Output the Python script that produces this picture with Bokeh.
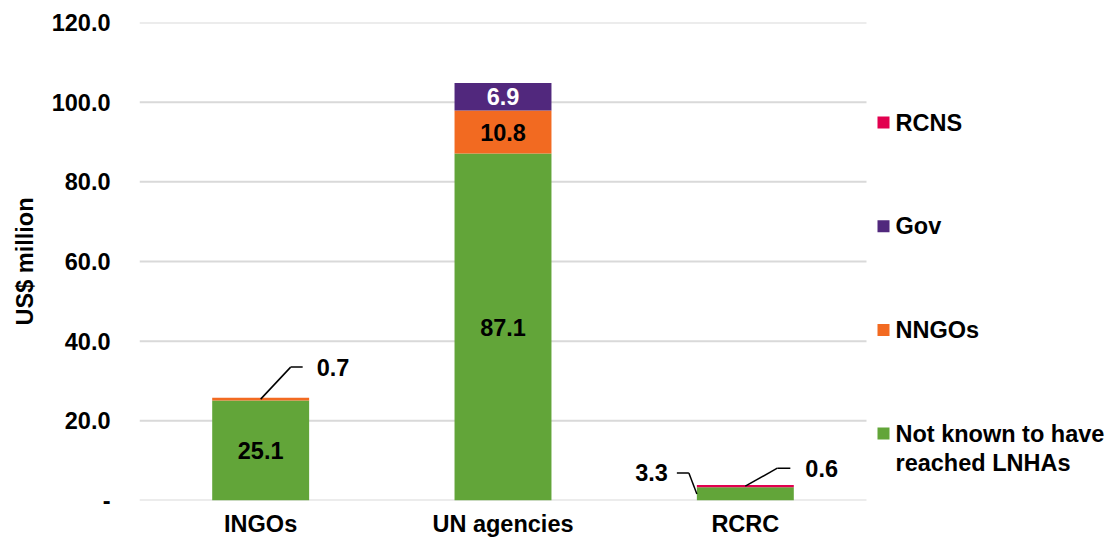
from bokeh.plotting import figure
from bokeh.models import Range1d, FixedTicker, ColumnDataSource
from bokeh.embed import file_html
from bokeh.resources import INLINE
from bokeh.core.properties import value

# ---------------- data ----------------
categories = ["INGOs", "UN agencies", "RCRC"]
not_known = [25.1, 87.1, 3.3]
nngos = [0.7, 10.8, 0.0]
gov = [0.0, 6.9, 0.0]
rcns = [0.0, 0.0, 0.6]
series_keys = ["not_known", "nngos", "gov", "rcns"]
series_labels = ["Not known to have\nreached LNHAs", "NNGOs", "Gov", "RCNS"]
y_ticks = [0, 20, 40, 60, 80, 100, 120]
y_tick_labels = ["-", "20.0", "40.0", "60.0", "80.0", "100.0", "120.0"]

# ---------------- style ----------------
colors = ["#62A539", "#F26A21", "#51287D", "#E2004F"]
inside_text_colors = ["black", "black", "white", "black"]
FONT = "Liberation Sans"
FS = "23.5px"
GRID = "#D9D9D9"

W, H = 1109, 539
L, R, T, B = 139, 0, 22, 39
frame_w = W - L - R
frame_h = H - T - B
ncat = len(categories)
cat_px = 727 / ncat
x_end = frame_w / cat_px
y_max = 120
ppy = frame_h / y_max


def dx(px):
    return px / cat_px


def dy(px):
    return px / ppy


p = figure(width=W, height=H, x_range=Range1d(0, x_end), y_range=Range1d(0, y_max),
           output_backend="svg", toolbar_location=None,
           min_border_left=L, min_border_right=R, min_border_top=T, min_border_bottom=B)
p.outline_line_color = None
p.xgrid.visible = False
p.ygrid.visible = False
p.background_fill_color = "white"

x_pos = [i + 0.5 for i in range(ncat)]

# gridlines
p.segment(x0=[0] * len(y_ticks), x1=[ncat] * len(y_ticks), y0=y_ticks, y1=y_ticks,
          line_color=GRID, line_width=2)

data = dict(x=x_pos, not_known=not_known, nngos=nngos, gov=gov, rcns=rcns)
src = ColumnDataSource(data)
bar_w = 0.4
p.vbar_stack(series_keys, x="x", width=bar_w, color=colors, line_color=None, source=src)

# inside labels
series_vals = [not_known, nngos, gov, rcns]
tx, ty, tt, tc = [], [], [], []
for ci in range(ncat):
    base = 0.0
    for si, vals in enumerate(series_vals):
        v = vals[ci]
        if v >= 5:
            tx.append(x_pos[ci]); ty.append(base + v / 2); tt.append(f"{v:.1f}")
            tc.append(inside_text_colors[si])
        base += v
p.text(x=tx, y=ty, text=tt, text_color=tc, text_align="center", text_baseline="middle",
       text_font=value(FONT), text_font_style="bold", text_font_size=FS)

# callouts (small values)
lx0, ly0, lx1, ly1, lx2, ly2 = [], [], [], [], [], []
ctx, cty, ctt, cta = [], [], [], []
# INGOs NNGOs
ax, ay = x_pos[0], not_known[0] + nngos[0] / 2
e = (ax + dx(30), ay + dy(32)); f = (e[0] + dx(12), e[1])
lx0.append(ax); ly0.append(ay); lx1.append(e[0]); ly1.append(e[1]); lx2.append(f[0]); ly2.append(f[1])
ctx.append(f[0] + dx(14)); cty.append(f[1]); ctt.append(f"{nngos[0]:.1f}"); cta.append("left")
# RCRC not known
ax, ay = x_pos[2] - bar_w / 2, not_known[2] / 2
e = (ax - dx(8), ay + dy(21)); f = (e[0] - dx(12), e[1])
lx0.append(ax); ly0.append(ay); lx1.append(e[0]); ly1.append(e[1]); lx2.append(f[0]); ly2.append(f[1])
ctx.append(f[0] - dx(9)); cty.append(f[1]); ctt.append(f"{not_known[2]:.1f}"); cta.append("right")
# RCRC RCNS
ax, ay = x_pos[2], not_known[2] + rcns[2] / 2
e = (ax + dx(32), ay + dy(18)); f = (e[0] + dx(13), e[1])
lx0.append(ax); ly0.append(ay); lx1.append(e[0]); ly1.append(e[1]); lx2.append(f[0]); ly2.append(f[1])
ctx.append(f[0] + dx(15)); cty.append(f[1]); ctt.append(f"{rcns[2]:.1f}"); cta.append("left")

p.segment(x0=lx0, y0=ly0, x1=lx1, y1=ly1, line_color="black", line_width=1.5)
p.segment(x0=lx1, y0=ly1, x1=lx2, y1=ly2, line_color="black", line_width=1.5)
p.text(x=ctx, y=cty, text=ctt, text_align=cta, text_baseline="middle",
       text_font=value(FONT), text_font_style="bold", text_font_size=FS, text_color="black")

# manual legend (top to bottom: reverse stacking order)
leg_top_px = 122 - T
leg_step = 103.7
sq_x = dx(883 - L)
txt_x = dx(895 - L)
lsx, lsy, lsc = [], [], []
ltx, lty, ltt = [], [], []
for k, si in enumerate(reversed(range(len(series_labels)))):
    ypx = leg_top_px + k * leg_step
    yd = y_max - dy(ypx)
    lsx.append(sq_x); lsy.append(yd); lsc.append(colors[si])
    for li, line in enumerate(series_labels[si].split("\n")):
        ltx.append(txt_x); lty.append(yd - dy(29 * li)); ltt.append(line)
p.rect(x=lsx, y=lsy, width=12, height=12, width_units="screen", height_units="screen",
       fill_color=lsc, line_color=None)
p.text(x=ltx, y=lty, text=ltt, text_align="left", text_baseline="middle",
       text_font=value(FONT), text_font_style="bold", text_font_size=FS, text_color="black")

# axes
p.xaxis.ticker = FixedTicker(ticks=x_pos)
p.xaxis.major_label_overrides = {x: c for x, c in zip(x_pos, categories)}
p.yaxis.ticker = FixedTicker(ticks=y_ticks)
p.yaxis.major_label_overrides = {t: s for t, s in zip(y_ticks, y_tick_labels)}
for ax_ in (p.xaxis, p.yaxis):
    ax_.axis_line_color = None
    ax_.major_tick_line_color = None
    ax_.minor_tick_line_color = None
    ax_.major_label_text_font = FONT
    ax_.major_label_text_font_style = "bold"
    ax_.major_label_text_font_size = FS
    ax_.major_label_text_color = "black"
p.xaxis.major_label_standoff = 4
p.yaxis.major_label_standoff = 23
p.yaxis.axis_label = "US$ million"
p.yaxis.axis_label_text_font = FONT
p.yaxis.axis_label_text_font_style = "bold"
p.yaxis.axis_label_text_font_size = FS
p.yaxis.axis_label_text_color = "black"
p.yaxis.axis_label_standoff = 11

open("out.html", "w").write(file_html(p, INLINE))
